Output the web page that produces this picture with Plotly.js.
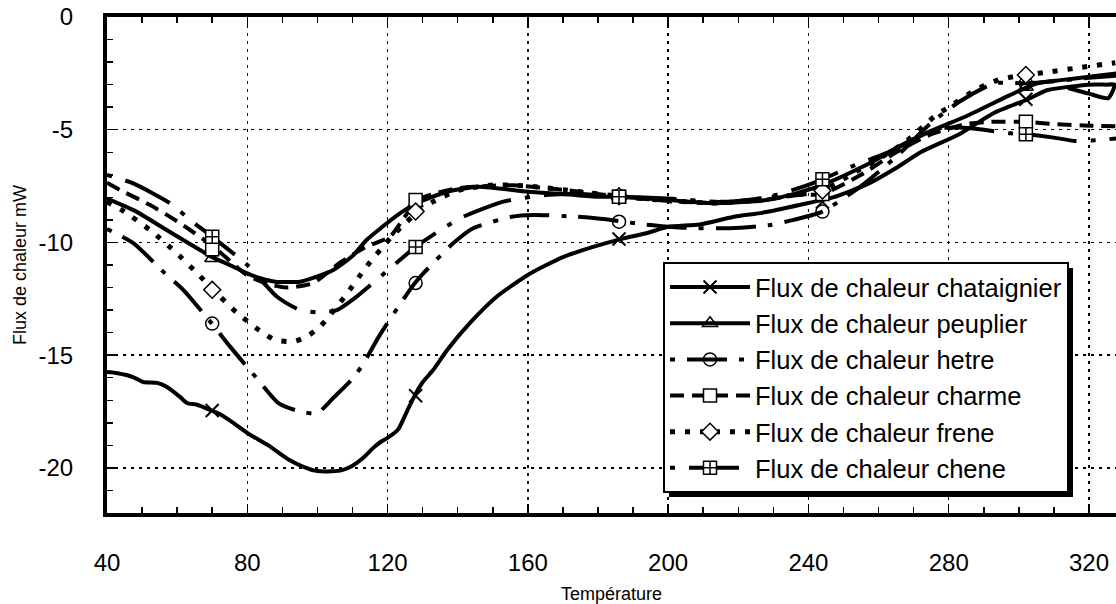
<!DOCTYPE html>
<html><head><meta charset="utf-8">
<script src="https://cdn.plot.ly/plotly-3.0.1.min.js"></script>
<style>html,body{margin:0;padding:0;background:#fff}#chart{width:1116px;height:604px}</style>
</head><body><div id="chart"></div>
<script>
// ---- data ----
const seriesNames = ['Flux de chaleur chataignier','Flux de chaleur peuplier','Flux de chaleur hetre','Flux de chaleur charme','Flux de chaleur frene','Flux de chaleur chene'];

const chataignierX = [40,43,47.4,50.3,54.3,57,60.8,62.8,65.7,68.8,72,76,80,86,92,96,100,104,107,110,113,116,118,120,123,125.5,127.8,130,133,137,143.5,151,160,170,178.6,186.5,194,200,209,218.5,228,240,247,257,265,272,283,293,302.6,308,314,320,325,327.3,325.5,320,314];
const chataignierY = [-15.75,-15.8,-15.97,-16.19,-16.23,-16.4,-16.85,-17.12,-17.2,-17.39,-17.6,-18.0,-18.45,-19.0,-19.65,-19.95,-20.14,-20.15,-20.1,-19.9,-19.56,-19.1,-18.85,-18.67,-18.3,-17.5,-16.77,-16.2,-15.66,-14.77,-13.57,-12.42,-11.44,-10.65,-10.2,-9.85,-9.58,-9.31,-9.2,-8.87,-8.65,-8.25,-8.0,-7.4,-6.7,-6.0,-5.2,-4.25,-3.65,-3.25,-3.1,-3.0,-3.0,-3.0,-3.6,-3.4,-3.15];

const peuplierX = [40,48,57,64,70,75,80,84,88,95,100,104.5,110,114,118,123.5,128.3,137,146,160,170,180,186,200,214,228,237,244,256,266,275,285,297,305,312,320,328];
const peuplierY = [-8.05,-8.6,-9.45,-10.1,-10.65,-11.0,-11.37,-11.6,-11.74,-11.74,-11.5,-11.22,-10.6,-9.89,-9.37,-8.71,-8.26,-7.75,-7.53,-7.75,-7.85,-7.97,-7.97,-8.12,-8.26,-8.12,-7.8,-7.45,-6.6,-5.75,-5.05,-4.4,-3.5,-2.95,-2.8,-2.65,-2.5];

const hetreX = [40,47.6,56.5,61.8,69.9,75.1,83.1,88.9,94,99.8,104.5,110,113,117.8,123.5,127.8,130.2,138.7,144.4,155.4,161.6,174,180.6,186,192,205,217.6,229,235.7,244,255,265,275,283,293,302,310,320,328];
const hetreY = [-9.4,-10.04,-11.37,-12.11,-13.6,-14.62,-16.1,-17.13,-17.45,-17.58,-16.9,-16.05,-15.4,-14.1,-12.75,-11.8,-11.37,-10.04,-9.37,-8.86,-8.78,-8.86,-8.95,-9.05,-9.18,-9.35,-9.37,-9.23,-9.0,-8.63,-7.5,-6.2,-4.7,-3.76,-2.94,-2.94,-2.85,-2.7,-2.6];

const charmeX = [40,43.7,52.3,60.8,70.5,79.8,86,91.2,98.8,106.4,114,120.7,124.5,128.5,133,139.7,150,155.8,171,186,203,215,228,237,244,255,265,275,285,292,302,310,320,328];
const charmeY = [-7.35,-7.67,-8.34,-9.14,-10.2,-11.44,-11.85,-12.0,-11.8,-10.9,-10.19,-9.74,-8.95,-8.12,-7.85,-7.6,-7.48,-7.46,-7.68,-7.97,-8.19,-8.25,-8.1,-7.9,-7.85,-7.0,-6.0,-5.2,-4.75,-4.65,-4.65,-4.75,-4.82,-4.85];

const freneX = [40,44.2,52.3,59.9,66.5,70.3,77,84.3,88.1,93,96.9,100.7,107.9,114,121,125.5,128.8,133,140,150,160,175,186,200,215,230,244,252,260,268,276,280,288,295,302,309,318,327.5];
const freneY = [-8.2,-8.56,-9.45,-10.48,-11.49,-12.1,-13.11,-14.0,-14.33,-14.4,-14.18,-13.74,-12.38,-11.07,-9.77,-9.08,-8.63,-8.19,-7.7,-7.45,-7.5,-7.75,-7.95,-8.15,-8.25,-8.0,-7.7,-7.0,-6.3,-5.5,-4.4,-4.0,-3.2,-2.75,-2.57,-2.43,-2.23,-2.03];

const cheneX = [40,47.5,58,63.7,70,80,88.4,95,100,105.5,111.2,120.7,128,135.9,141.6,153,165,175,186,200,215,228,238,244,252,262,270,277,283,290,297.5,302,310,316,323,328];
const cheneY = [-7.0,-7.38,-8.26,-9.0,-9.75,-11.0,-12.4,-13.0,-13.1,-13.0,-12.4,-11.15,-10.2,-9.37,-8.86,-8.19,-7.9,-7.85,-7.97,-8.05,-8.2,-8.0,-7.55,-7.2,-6.65,-6.05,-5.4,-4.95,-4.9,-5.0,-5.16,-5.2,-5.35,-5.5,-5.46,-5.38];

const markerX = [70,128,186,244,302];
const chataignierMarkY = [-17.45,-16.8,-9.85,-8.2,-3.65];
const peuplierMarkY = [-10.7,-8.26,-7.97,-7.45,-3.1];
const hetreMarkY = [-13.6,-11.8,-9.08,-8.63,-2.94];
const charmeMarkY = [-10.3,-8.12,-7.97,-7.85,-4.65];
const freneMarkY = [-12.1,-8.63,-7.95,-7.7,-2.57];
const cheneMarkY = [-9.75,-10.2,-7.97,-7.2,-5.2];

const xTickVals = [40,80,120,160,200,240,280,320];
const yTickVals = [0,-5,-10,-15,-20];
const yTickText = ['0','-5','-10','-15','-20'];

// ---- styles ----
const styles = [
  {dash:'solid', width:4, symbol:'x-thin-open', mcolor:'#000', mline:2},
  {dash:'solid', width:4, symbol:'triangle-up-open', mcolor:'#000', mline:1.5},
  {dash:'5px,12px,40px,12px', width:4, symbol:'circle-open', mcolor:'#000', mline:1.5},
  {dash:'14px,8px', width:4, symbol:'square', mcolor:'#fff', mline:1.5},
  {dash:'5px,10px', width:5, symbol:'diamond', mcolor:'#fff', mline:1.5},
  {dash:'5px,14px,50px,14px', width:4, symbol:'square-cross', mcolor:'#fff', mline:1.5}
];
const curves = [[chataignierX,chataignierY],[peuplierX,peuplierY],[hetreX,hetreY],[charmeX,charmeY],[freneX,freneY],[cheneX,cheneY]];
const marks = [chataignierMarkY,peuplierMarkY,hetreMarkY,charmeMarkY,freneMarkY,cheneMarkY];

const traces = [];
curves.forEach((c,i)=>{
  traces.push({x:c[0], y:c[1], type:'scatter', mode:'lines', showlegend:false, legendgroup:'g'+i,
    line:{color:'#000', width:styles[i].width, dash:styles[i].dash, shape:'spline', smoothing:0.6}, hoverinfo:'skip'});
});
marks.forEach((m,i)=>{
  const xs=[], ys=[];
  markerX.forEach((v,k)=>{ xs.push(v); ys.push(m[k]); xs.push(null); ys.push(null); });
  traces.push({x:xs, y:ys, type:'scatter', mode:'lines+markers', name:seriesNames[i], legendgroup:'g'+i, connectgaps:false,
    line:{color:'#000', width:styles[i].width, dash:styles[i].dash},
    marker:{symbol:styles[i].symbol, size:13, color:styles[i].mcolor, line:{color:'#000', width:styles[i].mline}}});
});

const L = 107, T = 17, W = 1009, H = 496;
const px = v => (v-L)/W, py = v => (T+H-v)/H;
const layout = {
  width:1116, height:604,
  margin:{l:L, r:0, t:T, b:604-T-H},
  paper_bgcolor:'#fff', plot_bgcolor:'#fff',
  font:{family:'"Liberation Sans", Arial, Helvetica, sans-serif', color:'#000', size:24},
  showlegend:true,
  xaxis:{range:[40,327.7], tickmode:'array', tickvals:xTickVals, showline:true, linewidth:4, linecolor:'#000',
    mirror:'ticks', ticks:'inside', ticklen:9, tickwidth:1.5, tickcolor:'#000',
    showgrid:true, gridcolor:'#000', gridwidth:1.5, griddash:'3px,5px', zeroline:false,
    ticklabelstandoff:25, tickfont:{size:24},
    minor:{tickmode:'linear', tick0:0, dtick:10, ticks:'inside', ticklen:6, tickwidth:1.5, tickcolor:'#000', showgrid:false},
    title:{text:'Température', font:{size:18}, standoff:14}},
  yaxis:{range:[-22,0], tickmode:'array', tickvals:yTickVals, ticktext:yTickText, showline:true, linewidth:4, linecolor:'#000',
    mirror:false, ticks:'inside', ticklen:9, tickwidth:1.5, tickcolor:'#000',
    showgrid:true, gridcolor:'#000', gridwidth:1.5, griddash:'3px,5px', zeroline:false,
    ticklabelstandoff:25, tickfont:{size:24},
    minor:{tickmode:'linear', tick0:0, dtick:1, ticks:'inside', ticklen:6, tickwidth:1.5, tickcolor:'#000', showgrid:false},
    title:{text:'Flux de chaleur mW', font:{size:18}, standoff:8}},
  legend:{x:px(663), y:py(262), xanchor:'left', yanchor:'top', bgcolor:'#fff', bordercolor:'#000', borderwidth:2,
    font:{size:25.5}, itemwidth:80, tracegroupgap:0, traceorder:'normal'}
};
Plotly.newPlot('chart', traces, layout, {displayModeBar:false, staticPlot:true}).then(gd => {
  // drop shadow behind the legend box (offset lower-right), matching the reference
  const bg = gd.querySelector('.legend .bg');
  if (!bg) return;
  const r = bg.getBoundingClientRect(), g = gd.getBoundingClientRect();
  const off = 5;
  const x0 = r.left - g.left + off, x1 = r.right - g.left + off;
  const y0 = r.top - g.top + off, y1 = r.bottom - g.top + off;
  return Plotly.relayout(gd, {shapes:[{type:'rect', xref:'paper', yref:'paper',
    x0:px(x0), x1:px(x1), y0:py(y1), y1:py(y0), fillcolor:'#000', line:{width:0}, layer:'above'}]});
});
</script></body></html>
